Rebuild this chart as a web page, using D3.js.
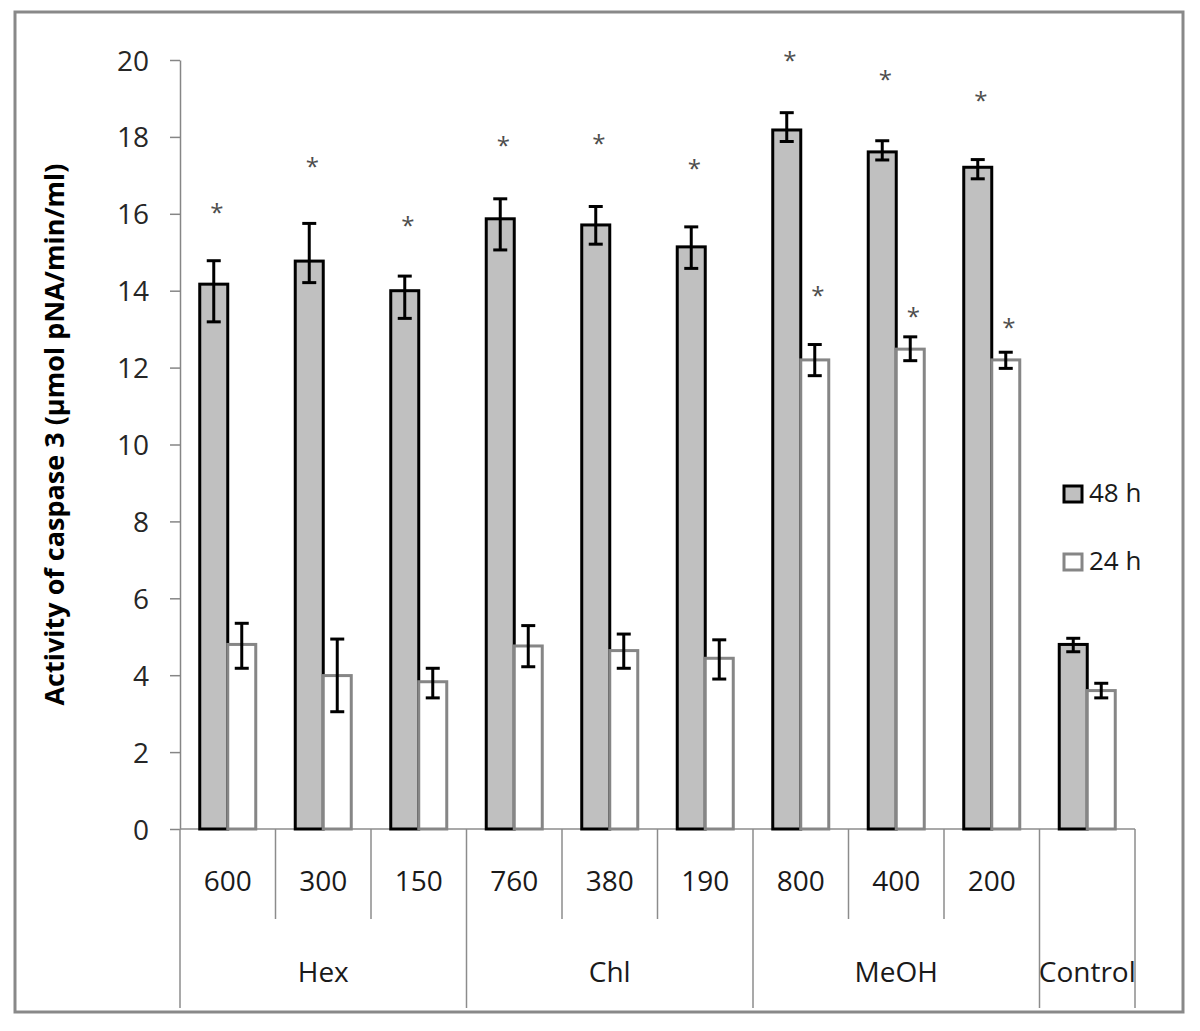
<!DOCTYPE html>
<html>
<head>
<meta charset="utf-8">
<script src="https://cdn.jsdelivr.net/npm/d3@7"></script>
<style>
  body { margin: 0; background: #fff; }
  text { font-family: "Open Sans", "DejaVu Sans", sans-serif; }
</style>
</head>
<body>
<svg id="chart"></svg>
<script>
// categories (dose) and their solvent groups
const doses = ["600", "300", "150", "760", "380", "190", "800", "400", "200", ""];
const groups = ["Hex", "Hex", "Hex", "Chl", "Chl", "Chl", "MeOH", "MeOH", "MeOH", "Control"];
const seriesNames = ["48 h", "24 h"];

// 48 h values and error-bar bounds
const h48 = [14.17, 14.77, 14.0, 15.87, 15.71, 15.14, 18.18, 17.61, 17.21, 4.8];
const h48Lo = [13.19, 14.21, 13.28, 15.06, 15.21, 14.58, 17.88, 17.4, 16.91, 4.61];
const h48Hi = [14.78, 15.75, 14.38, 16.39, 16.19, 15.66, 18.63, 17.9, 17.41, 4.96];

// 24 h values and error-bar bounds
const h24 = [4.8, 3.99, 3.83, 4.76, 4.64, 4.44, 12.2, 12.48, 12.2, 3.6];
const h24Lo = [4.18, 3.05, 3.41, 4.22, 4.18, 3.9, 11.79, 12.18, 11.98, 3.41];
const h24Hi = [5.35, 4.94, 4.18, 5.29, 5.07, 4.92, 12.6, 12.8, 12.4, 3.79];

// significance marks (level on the y scale where the * sits)
const star48 = [16.2, 17.4, 15.85, 17.95, 18.0, 17.35, 20.15, 19.65, 19.1, null];
const star24 = [null, null, null, null, null, null, 14.05, 13.5, 13.2, null];

const yTicks = [0, 2, 4, 6, 8, 10, 12, 14, 16, 18, 20];
const yTitle = "Activity of caspase 3 (µmol pNA/min/ml)";

const width = 1200;
const height = 1031;
const margin = { top: 60, right: 65, bottom: 202, left: 180 };

const svg = d3.select("#chart").attr("width", width).attr("height", height);

// outer frame
svg.append("rect")
  .attr("x", 15).attr("y", 12)
  .attr("width", 1168).attr("height", 1000)
  .attr("fill", "#fff")
  .attr("stroke", "#898989")
  .attr("stroke-width", 3);

const keys = doses.map((d, i) => groups[i] + " " + d);

const x0 = d3.scaleBand()
  .domain(keys)
  .range([margin.left, width - margin.right]);

const x1 = d3.scaleBand()
  .domain(seriesNames)
  .range([0, x0.bandwidth()])
  .paddingOuter(0.705);

const y = d3.scaleLinear()
  .domain([0, 20])
  .range([height - margin.bottom, margin.top]);

const baseY = y(0);

// y axis
const yAxisG = svg.append("g")
  .attr("transform", `translate(${margin.left},0)`)
  .call(d3.axisLeft(y).tickValues(yTicks).tickSize(10).tickSizeOuter(0).tickPadding(21));

yAxisG.select(".domain").attr("stroke", "#868686").attr("stroke-width", 1.5);
yAxisG.selectAll(".tick line").attr("stroke", "#868686").attr("stroke-width", 1.5);
yAxisG.selectAll(".tick text")
  .attr("fill", "#262626")
  .style("font-size", "28px")
  .attr("dy", "0.36em");

svg.append("text")
  .attr("transform", `translate(64,${(y(0) + y(20)) / 2 - 10}) rotate(-90)`)
  .attr("text-anchor", "middle")
  .attr("fill", "#000")
  .style("font-size", "27px")
  .style("font-weight", "bold")
  .text(yTitle);

// category axis: base line + dividers
const axisColor = "#8c8c8c";
svg.append("line")
  .attr("x1", margin.left).attr("x2", x0.range()[1])
  .attr("y1", baseY).attr("y2", baseY)
  .attr("stroke", axisColor).attr("stroke-width", 1.5);

const bounds = keys.map((k) => x0(k)).concat([x0.range()[1]]);
bounds.forEach((bx, i) => {
  const groupEdge = i === 0 || i === keys.length || groups[i] !== groups[i - 1];
  svg.append("line")
    .attr("x1", bx).attr("x2", bx)
    .attr("y1", baseY)
    .attr("y2", groupEdge ? 1008 : 919)
    .attr("stroke", axisColor)
    .attr("stroke-width", 1.5);
});

svg.append("g").selectAll("text")
  .data(keys)
  .join("text")
  .attr("x", (k) => x0(k) + x0.bandwidth() / 2)
  .attr("y", 891)
  .attr("text-anchor", "middle")
  .attr("fill", "#1a1a1a")
  .style("font-size", "28px")
  .text((k, i) => doses[i]);

const groupNames = Array.from(new Set(groups));
svg.append("g").selectAll("text")
  .data(groupNames)
  .join("text")
  .attr("x", (g) => {
    const ks = keys.filter((k, i) => groups[i] === g);
    return (x0(ks[0]) + x0(ks[ks.length - 1]) + x0.bandwidth()) / 2;
  })
  .attr("y", 982)
  .attr("text-anchor", "middle")
  .attr("fill", "#1a1a1a")
  .style("font-size", "28px")
  .text((g) => g);

// bars
const series = [
  { name: "48 h", vals: h48, lo: h48Lo, hi: h48Hi, fill: "#c0c0c0", stroke: "#000" },
  { name: "24 h", vals: h24, lo: h24Lo, hi: h24Hi, fill: "#fff", stroke: "#868686" }
];

series.forEach((s) => {
  svg.append("g").selectAll("rect")
    .data(keys)
    .join("rect")
    .attr("x", (k) => x0(k) + x1(s.name))
    .attr("y", (k, i) => y(s.vals[i]))
    .attr("width", x1.bandwidth())
    .attr("height", (k, i) => baseY - y(s.vals[i]))
    .attr("fill", s.fill)
    .attr("stroke", s.stroke)
    .attr("stroke-width", 3);
});

// error bars
const cap = 7;
series.forEach((s) => {
  const g = svg.append("g").attr("stroke", "#000").attr("stroke-width", 3);
  keys.forEach((k, i) => {
    const cx = x0(k) + x1(s.name) + x1.bandwidth() / 2;
    g.append("line").attr("x1", cx).attr("x2", cx).attr("y1", y(s.lo[i])).attr("y2", y(s.hi[i]));
    g.append("line").attr("x1", cx - cap).attr("x2", cx + cap).attr("y1", y(s.hi[i])).attr("y2", y(s.hi[i]));
    g.append("line").attr("x1", cx - cap).attr("x2", cx + cap).attr("y1", y(s.lo[i])).attr("y2", y(s.lo[i]));
  });
});

// asterisks
[[star48, "48 h"], [star24, "24 h"]].forEach(([stars, name]) => {
  svg.append("g").selectAll("text")
    .data(keys.filter((k, i) => stars[i] !== null))
    .join("text")
    .attr("x", (k) => x0(k) + x1(name) + x1.bandwidth() / 2 + 3)
    .attr("y", (k) => y(stars[keys.indexOf(k)]))
    .attr("dy", "0.62em")
    .attr("text-anchor", "middle")
    .attr("fill", "#4d4d4d")
    .style("font-size", "24px")
    .text("*");
});

// legend
const legend = svg.append("g");
series.forEach((s, i) => {
  const ly = 486 + i * 68;
  legend.append("rect")
    .attr("x", 1064).attr("y", ly)
    .attr("width", 18).attr("height", 16)
    .attr("fill", s.fill)
    .attr("stroke", s.stroke)
    .attr("stroke-width", 3);
  legend.append("text")
    .attr("x", 1089).attr("y", ly + 16)
    .attr("fill", "#1a1a1a")
    .style("font-size", "26px")
    .text(s.name);
});
</script>
</body>
</html>
